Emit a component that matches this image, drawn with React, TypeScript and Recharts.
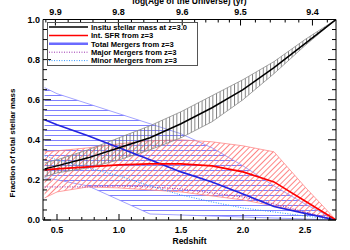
import React from 'react';
import { ComposedChart, Area, Line, XAxis, YAxis, Legend } from 'recharts';

// ---- data ----
const redshift = [0.4, 0.5, 0.75, 1.0, 1.25, 1.5, 1.75, 2.0, 2.25, 2.5, 2.75];
const insitu = [0.255, 0.27, 0.31, 0.36, 0.41, 0.48, 0.56, 0.65, 0.76, 0.88, 1.0];
const insituLo = [0.215, 0.235, 0.26, 0.3, 0.35, 0.41, 0.49, 0.6, 0.73, 0.87, 1.0];
const insituHi = [0.285, 0.3, 0.35, 0.41, 0.47, 0.54, 0.62, 0.7, 0.79, 0.9, 1.0];
const sfr = [0.25, 0.255, 0.265, 0.275, 0.28, 0.28, 0.27, 0.24, 0.19, 0.095, 0.0];
const sfrLo = [0.11, 0.14, 0.165, 0.16, 0.15, 0.14, 0.12, 0.1, 0.07, 0.035, 0.0];
const sfrHi = [0.34, 0.345, 0.36, 0.38, 0.395, 0.4, 0.39, 0.37, 0.34, 0.165, 0.0];
const totalMergers = [0.5, 0.475, 0.42, 0.36, 0.3, 0.24, 0.19, 0.13, 0.067, 0.033, 0.0];
const totalLo = [0.21, 0.2, 0.17, 0.1, 0.03, 0.025, 0.02, 0.015, 0.01, 0.005, 0.0];
const totalHi = [0.66, 0.63, 0.58, 0.53, 0.48, 0.43, 0.36, 0.27, 0.17, 0.08, 0.0];
const majorMergers = [0.165, 0.165, 0.165, 0.17, 0.165, 0.155, 0.135, 0.115, 0.08, 0.04, 0.0];
const minorMergers = [0.32, 0.3, 0.26, 0.22, 0.17, 0.125, 0.09, 0.06, 0.04, 0.02, 0.0];

const xDomain = [0.387, 2.75];
const bottomTicks = [0.4, 0.5, 0.6, 0.7, 0.8, 0.9, 1.0, 1.1, 1.2, 1.3, 1.4, 1.5, 1.6, 1.7, 1.8, 1.9, 2.0, 2.1, 2.2, 2.3, 2.4, 2.5, 2.6, 2.7];
const yTicks = [0, 0.05, 0.1, 0.15, 0.2, 0.25, 0.3, 0.35, 0.4, 0.45, 0.5, 0.55, 0.6, 0.65, 0.7, 0.75, 0.8, 0.85, 0.9, 0.95, 1.0];
const topMajorZ = [0.487, 0.995, 1.51, 1.98, 2.56];
const topLabels = ['9.9', '9.8', '9.6', '9.5', '9.4'];
const topMinorZ = [0.41, 0.59, 0.69, 0.79, 0.89, 1.1, 1.2, 1.31, 1.41, 1.61, 1.7, 1.8, 1.89, 2.1, 2.22, 2.34, 2.45, 2.68];

const legendItems = [
  { label: 'Insitu stellar mass at z=3.0', color: '#000000', width: 1.5, dash: undefined },
  { label: 'Int. SFR from z=3', color: '#ff0000', width: 1.5, dash: undefined },
  { label: 'Total Mergers from z=3', color: '#6a6aff', width: 2.5, dash: undefined },
  { label: 'Major Mergers from z=3', color: '#9a30b0', width: 1, dash: '1 1.5' },
  { label: 'Minor Mergers from z=3', color: '#3399ff', width: 1, dash: '1 1.5' },
];

const data = redshift.map((z, i) => ({
  z,
  insitu: insitu[i],
  insituBand: [insituLo[i], insituHi[i]],
  sfr: sfr[i],
  sfrBand: [sfrLo[i], sfrHi[i]],
  total: totalMergers[i],
  totalBand: [totalLo[i], totalHi[i]],
  major: majorMergers[i],
  minor: minorMergers[i],
}));

const FONT = "'Liberation Sans', Arial, sans-serif";
const MAJ = 6;
const MIN = 3;
const near = (a: number, b: number) => Math.abs(a - b) < 1e-6;
const isMult = (v: number, step: number) => near(v / step, Math.round(v / step));

const BottomTick = (props: any) => {
  const { x, y, payload } = props;
  const v = payload.value as number;
  const maj = isMult(v, 0.5);
  return (
    <g>
      <line x1={x} x2={x} y1={y} y2={y - (maj ? MAJ : MIN)} stroke="#000" strokeWidth={1} />
      {maj && (
        <text x={x} y={y + 13} textAnchor="middle" fontSize={9} fontFamily={FONT} fontWeight="bold" fill="#000">
          {v.toFixed(1)}
        </text>
      )}
    </g>
  );
};

const TopTick = (props: any) => {
  const { x, y, payload } = props;
  const v = payload.value as number;
  const idx = topMajorZ.findIndex((m) => near(m, v));
  const maj = idx >= 0;
  return (
    <g>
      <line x1={x} x2={x} y1={y} y2={y + (maj ? MAJ : MIN)} stroke="#000" strokeWidth={1} />
      {maj && (
        <text x={x} y={y - 5} textAnchor="middle" fontSize={9} fontFamily={FONT} fontWeight="bold" fill="#000">
          {topLabels[idx]}
        </text>
      )}
    </g>
  );
};

const LeftTick = (props: any) => {
  const { x, y, payload } = props;
  const v = payload.value as number;
  const maj = isMult(v, 0.2);
  return (
    <g>
      <line x1={x} x2={x + (maj ? MAJ + 2 : MIN + 1)} y1={y} y2={y} stroke="#000" strokeWidth={1} />
      {maj && (
        <text x={x - 3} y={y + 3} textAnchor="end" fontSize={9} fontFamily={FONT} fontWeight="bold" fill="#000">
          {v.toFixed(1)}
        </text>
      )}
    </g>
  );
};

const RightTick = (props: any) => {
  const { x, y, payload } = props;
  const v = payload.value as number;
  const maj = isMult(v, 0.2);
  return <line x1={x} x2={x - (maj ? MAJ + 2 : MIN + 1)} y1={y} y2={y} stroke="#000" strokeWidth={1} />;
};

const renderLegend = () => (
  <div style={{ border: '1px solid #555', background: 'transparent', width: 151, height: 44, boxSizing: 'border-box' }}>
    <svg width={149} height={42} style={{ display: 'block' }}>
      {legendItems.map((it, i) => {
        const cy = 4 + i * 8.4;
        return (
          <g key={it.label}>
            <line x1={1} x2={40} y1={cy} y2={cy} stroke={it.color} strokeWidth={it.width} strokeDasharray={it.dash} />
            <text x={43} y={cy + 2.8} fontSize={7.6} fontFamily={FONT} fontWeight="bold" fill="#000">
              {it.label}
            </text>
          </g>
        );
      })}
    </svg>
  </div>
);

export default function App() {
  return (
    <div style={{ position: 'absolute', left: 0, top: 0, width: 350, height: 250, background: '#fff' }}>
      <ComposedChart width={350} height={250} data={data} margin={{ top: 0, right: 0, bottom: 0, left: 0 }}>
        <defs>
          <pattern id="hatchBlue" patternUnits="userSpaceOnUse" width={6} height={5}>
            <line x1={0} x2={6} y1={0.5} y2={0.5} stroke="#7f7fff" strokeWidth={1} />
          </pattern>
          <pattern id="hatchRed" patternUnits="userSpaceOnUse" width={4} height={4} patternTransform="rotate(45)">
            <line x1={0.5} x2={0.5} y1={0} y2={4} stroke="#ff7878" strokeWidth={0.9} />
          </pattern>
          <pattern id="hatchBlack" patternUnits="userSpaceOnUse" width={3.6} height={6}>
            <line x1={0.5} x2={0.5} y1={0} y2={6} stroke="#6e6e6e" strokeWidth={0.9} />
          </pattern>
        </defs>
        <XAxis
          xAxisId="bottom"
          dataKey="z"
          type="number"
          orientation="bottom"
          domain={xDomain}
          allowDataOverflow
          ticks={bottomTicks}
          interval={0}
          tick={BottomTick}
          tickLine={false}
          tickSize={0}
          tickMargin={0}
          axisLine={{ stroke: '#000' }}
          height={30}
          label={{
            content: (p: any) => {
              const vb = p.viewBox || {};
              return (
                <text x={vb.x + vb.width / 2} y={vb.y + 24} textAnchor="middle" fontSize={8.5} fontFamily={FONT} fontWeight="bold" fill="#000">
                  Redshift
                </text>
              );
            },
          }}
        />
        <XAxis
          xAxisId="top"
          dataKey="z"
          type="number"
          orientation="top"
          domain={xDomain}
          allowDataOverflow
          ticks={[...topMajorZ, ...topMinorZ].sort((a, b) => a - b)}
          interval={0}
          tick={TopTick}
          tickLine={false}
          tickSize={0}
          tickMargin={0}
          axisLine={{ stroke: '#000' }}
          height={19.5}
          label={{
            content: (p: any) => {
              const vb = p.viewBox || {};
              return (
                <text x={vb.x + vb.width / 2} y={vb.y + 4} textAnchor="middle" fontSize={8.5} fontFamily={FONT} fontWeight="bold" fill="#000">
                  log(Age of the Universe) (yr)
                </text>
              );
            },
          }}
        />
        <YAxis
          yAxisId="left"
          type="number"
          domain={[0, 1]}
          allowDataOverflow
          ticks={yTicks}
          interval={0}
          tick={LeftTick}
          tickLine={false}
          tickSize={0}
          tickMargin={0}
          axisLine={{ stroke: '#000' }}
          width={43}
          label={{
            content: (p: any) => {
              const vb = p.viewBox || {};
              const cx = vb.x + 12;
              const cy = 143;
              return (
                <text x={cx} y={cy} transform={`rotate(-90 ${cx} ${cy})`} textAnchor="middle" dominantBaseline="central" fontSize={8} fontFamily={FONT} fontWeight="bold" fill="#000">
                  Fraction of total stellar mass
                </text>
              );
            },
          }}
        />
        <YAxis
          yAxisId="right"
          orientation="right"
          type="number"
          domain={[0, 1]}
          allowDataOverflow
          ticks={yTicks}
          interval={0}
          tick={RightTick}
          tickLine={false}
          tickSize={0}
          tickMargin={0}
          axisLine={{ stroke: '#000' }}
          width={14}
        />
        <Area xAxisId="bottom" yAxisId="left" type="linear" dataKey="totalBand" stroke="#8c8cff" strokeWidth={0.8} fill="url(#hatchBlue)" fillOpacity={1} dot={false} activeDot={false} isAnimationActive={false} />
        <Area xAxisId="bottom" yAxisId="left" type="linear" dataKey="sfrBand" stroke="#ff8c8c" strokeWidth={0.8} fill="url(#hatchRed)" fillOpacity={1} dot={false} activeDot={false} isAnimationActive={false} />
        <Area xAxisId="bottom" yAxisId="left" type="linear" dataKey="insituBand" stroke="#8a8a8a" strokeWidth={0.8} fill="url(#hatchBlack)" fillOpacity={1} dot={false} activeDot={false} isAnimationActive={false} />
        <Line xAxisId="bottom" yAxisId="left" type="linear" dataKey="major" stroke="#9a30b0" strokeWidth={1} strokeDasharray="1 1.5" dot={false} activeDot={false} isAnimationActive={false} />
        <Line xAxisId="bottom" yAxisId="left" type="linear" dataKey="minor" stroke="#3399ff" strokeWidth={1} strokeDasharray="1 1.5" dot={false} activeDot={false} isAnimationActive={false} />
        <Line xAxisId="bottom" yAxisId="left" type="linear" dataKey="total" stroke="#2323e0" strokeWidth={1.6} dot={false} activeDot={false} isAnimationActive={false} />
        <Line xAxisId="bottom" yAxisId="left" type="linear" dataKey="sfr" stroke="#ff0000" strokeWidth={1.6} dot={false} activeDot={false} isAnimationActive={false} />
        <Line xAxisId="bottom" yAxisId="left" type="linear" dataKey="insitu" stroke="#000000" strokeWidth={1.5} dot={false} activeDot={false} isAnimationActive={false} />
        <Legend
          layout="horizontal"
          verticalAlign="middle"
          align="center"
          content={renderLegend}
          wrapperStyle={{ position: 'absolute', left: 47, top: 22, width: 151, height: 44, margin: 0, padding: 0 }}
        />
      </ComposedChart>
    </div>
  );
}
